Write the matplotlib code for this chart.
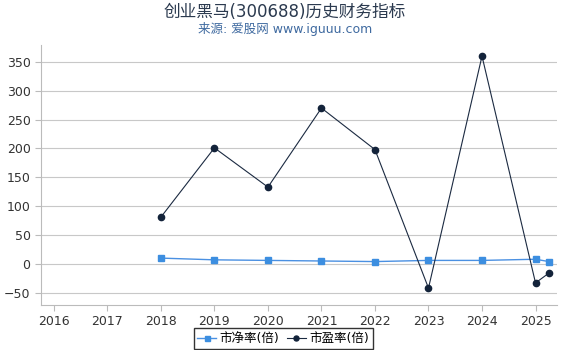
import matplotlib.pyplot as plt

plt.rcParams['font.family'] = ['DejaVu Sans', 'Noto Sans CJK SC']

years = [2018, 2019, 2020, 2021, 2022, 2023, 2024, 2025, 2025.25]
pb = [10, 7, 6, 5, 4, 6, 6, 8, 4]
pe = [81, 201, 133, 270, 198, -42, 360, -33, -16]
xticks = [2016, 2017, 2018, 2019, 2020, 2021, 2022, 2023, 2024, 2025]
yticks = [-50, 0, 50, 100, 150, 200, 250, 300, 350]

fig = plt.figure(figsize=(5.7, 3.5), dpi=100)
ax = fig.add_axes([0.072, 0.129, 0.906, 0.742])

ax.plot(years, pb, color="#4a90e2", lw=1, marker="s", ms=4.5,
        markerfacecolor="#3c8ee0", markeredgecolor="#3c8ee0", label="市净率(倍)")
ax.plot(years, pe, color="#1b2a41", lw=0.8, marker="o", ms=4.5,
        markerfacecolor="#13233a", markeredgecolor="#13233a", label="市盈率(倍)")

ax.set_xlim(2015.76, 2025.41)
ax.set_ylim(-71, 379)
ax.set_xticks(xticks)
ax.set_yticks(yticks)
ax.grid(axis="y", color="#c8c8c8", lw=0.8)
ax.set_axisbelow(True)
for s in ["top", "right"]:
    ax.spines[s].set_visible(False)
for s in ["left", "bottom"]:
    ax.spines[s].set_color("#bbbbbb")
ax.tick_params(colors="#333333", labelsize=9, length=4)
ax.tick_params(axis="x", color="#bbbbbb")
ax.tick_params(axis="y", color="#bbbbbb")

fig.text(0.5, 0.965, "创业黑马(300688)历史财务指标", ha="center", va="center",
         fontsize=12, color="#2b3a4f")
fig.text(0.5, 0.918, "来源: 爱股网 www.iguuu.com", ha="center", va="center",
         fontsize=9, color="#3f6aa0")

handles, labels = ax.get_legend_handles_labels()
leg = fig.legend(handles, labels, loc="lower center", bbox_to_anchor=(0.497, 0.003), ncol=2,
                 frameon=True, fancybox=False, fontsize=9, handlelength=1.5,
                 columnspacing=0.6, handletextpad=0.3, borderpad=0.3,
                 borderaxespad=0, markerscale=0.8)
leg.get_frame().set_edgecolor("black")
leg.get_frame().set_linewidth(1)

fig.savefig("out.png", dpi=100)
